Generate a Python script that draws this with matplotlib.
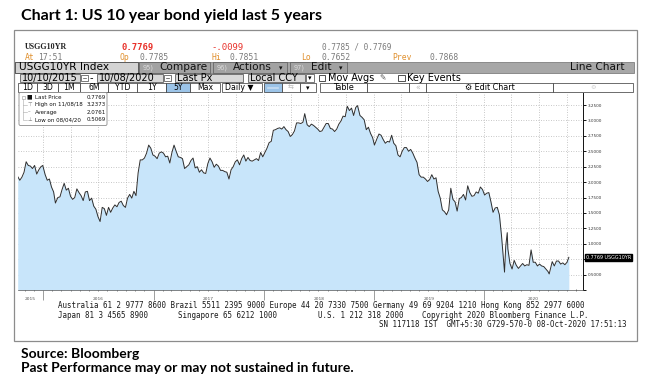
import matplotlib
matplotlib.use("Agg")
import matplotlib.pyplot as plt
import matplotlib.transforms as mtransforms
from matplotlib.patches import Rectangle, FancyBboxPatch
import pandas as pd
import numpy as np

# ---------------- data (US 10Y yield) ----------------
dates_2015 = ["2015-10-09", "2015-10-16", "2015-10-23", "2015-10-30", "2015-11-06", "2015-11-13",
              "2015-11-20", "2015-11-27", "2015-12-04", "2015-12-11", "2015-12-18", "2015-12-25",
              "2015-12-31"]
yld_2015 = [2.09, 2.03, 2.08, 2.16, 2.33, 2.27, 2.26, 2.22, 2.27, 2.13, 2.20, 2.25, 2.27]

dates_2016 = ["2016-01-08", "2016-01-15", "2016-01-22", "2016-01-29", "2016-02-05", "2016-02-11",
              "2016-02-19", "2016-02-26", "2016-03-04", "2016-03-11", "2016-03-18", "2016-03-25",
              "2016-04-01", "2016-04-08", "2016-04-15", "2016-04-22", "2016-04-29", "2016-05-06",
              "2016-05-13", "2016-05-20", "2016-05-27", "2016-06-03", "2016-06-10", "2016-06-17",
              "2016-06-24", "2016-07-01", "2016-07-08", "2016-07-15", "2016-07-22", "2016-07-29",
              "2016-08-05", "2016-08-12", "2016-08-19", "2016-08-26", "2016-09-02", "2016-09-09",
              "2016-09-16", "2016-09-23", "2016-09-30", "2016-10-07", "2016-10-14", "2016-10-21",
              "2016-10-28", "2016-11-04", "2016-11-11", "2016-11-18", "2016-11-25", "2016-12-02",
              "2016-12-09", "2016-12-16", "2016-12-23", "2016-12-30"]
yld_2016 = [2.12, 2.03, 2.05, 1.92, 1.84, 1.66, 1.75, 1.76, 1.88, 1.98, 1.87, 1.90,
            1.77, 1.72, 1.75, 1.89, 1.83, 1.78, 1.70, 1.84, 1.85, 1.70, 1.74, 1.61,
            1.56, 1.44, 1.36, 1.59, 1.57, 1.46, 1.59, 1.51, 1.58, 1.63, 1.60, 1.67,
            1.69, 1.62, 1.59, 1.74, 1.80, 1.74, 1.85, 1.78, 2.15, 2.36, 2.36, 2.39,
            2.47, 2.60, 2.55, 2.44]

dates_2017 = ["2017-01-06", "2017-01-13", "2017-01-20", "2017-01-27", "2017-02-03", "2017-02-10",
              "2017-02-17", "2017-02-24", "2017-03-03", "2017-03-10", "2017-03-17", "2017-03-24",
              "2017-03-31", "2017-04-07", "2017-04-14", "2017-04-21", "2017-04-28", "2017-05-05",
              "2017-05-12", "2017-05-19", "2017-05-26", "2017-06-02", "2017-06-09", "2017-06-16",
              "2017-06-23", "2017-06-30", "2017-07-07", "2017-07-14", "2017-07-21", "2017-07-28",
              "2017-08-04", "2017-08-11", "2017-08-18", "2017-08-25", "2017-09-01", "2017-09-08",
              "2017-09-15", "2017-09-22", "2017-09-29", "2017-10-06", "2017-10-13", "2017-10-20",
              "2017-10-27", "2017-11-03", "2017-11-10", "2017-11-17", "2017-11-24", "2017-12-01",
              "2017-12-08", "2017-12-15", "2017-12-22", "2017-12-29"]
yld_2017 = [2.42, 2.38, 2.47, 2.49, 2.47, 2.41, 2.42, 2.31, 2.48, 2.60, 2.50, 2.41,
            2.40, 2.38, 2.22, 2.25, 2.28, 2.35, 2.39, 2.23, 2.25, 2.16, 2.20, 2.15,
            2.14, 2.30, 2.39, 2.33, 2.24, 2.29, 2.26, 2.19, 2.19, 2.17, 2.16, 2.05,
            2.20, 2.25, 2.33, 2.36, 2.28, 2.38, 2.44, 2.34, 2.40, 2.35, 2.34, 2.36,
            2.38, 2.35, 2.48, 2.41]

dates_2018 = ["2018-01-05", "2018-01-12", "2018-01-19", "2018-01-26", "2018-02-02", "2018-02-09",
              "2018-02-16", "2018-02-23", "2018-03-02", "2018-03-09", "2018-03-16", "2018-03-23",
              "2018-03-30", "2018-04-06", "2018-04-13", "2018-04-20", "2018-04-27", "2018-05-04",
              "2018-05-11", "2018-05-17", "2018-05-25", "2018-06-01", "2018-06-08", "2018-06-15",
              "2018-06-22", "2018-06-29", "2018-07-06", "2018-07-13", "2018-07-20", "2018-07-27",
              "2018-08-03", "2018-08-10", "2018-08-17", "2018-08-24", "2018-08-31", "2018-09-07",
              "2018-09-14", "2018-09-21", "2018-09-28", "2018-10-05", "2018-10-12", "2018-10-19",
              "2018-10-26", "2018-11-02", "2018-11-08", "2018-11-16", "2018-11-23", "2018-11-30",
              "2018-12-07", "2018-12-14", "2018-12-21", "2018-12-28"]
yld_2018 = [2.48, 2.55, 2.64, 2.66, 2.84, 2.85, 2.87, 2.88, 2.86, 2.90, 2.85, 2.82,
            2.74, 2.77, 2.83, 2.96, 2.96, 2.95, 2.97, 3.11, 2.93, 2.90, 2.94, 2.92,
            2.89, 2.86, 2.82, 2.83, 2.89, 2.95, 2.95, 2.87, 2.86, 2.82, 2.86, 2.94,
            2.99, 3.07, 3.06, 3.23, 3.16, 3.20, 3.08, 3.21, 3.24, 3.08, 3.05, 3.01,
            2.85, 2.89, 2.79, 2.72]

dates_2019 = ["2019-01-03", "2019-01-11", "2019-01-18", "2019-01-25", "2019-02-01", "2019-02-08",
              "2019-02-15", "2019-02-22", "2019-03-01", "2019-03-08", "2019-03-15", "2019-03-22",
              "2019-03-29", "2019-04-05", "2019-04-12", "2019-04-19", "2019-04-26", "2019-05-03",
              "2019-05-10", "2019-05-17", "2019-05-24", "2019-05-31", "2019-06-07", "2019-06-14",
              "2019-06-21", "2019-06-28", "2019-07-05", "2019-07-12", "2019-07-19", "2019-07-26",
              "2019-08-02", "2019-08-09", "2019-08-16", "2019-08-23", "2019-08-30", "2019-09-06",
              "2019-09-13", "2019-09-20", "2019-09-27", "2019-10-04", "2019-10-11", "2019-10-18",
              "2019-10-25", "2019-11-01", "2019-11-08", "2019-11-15", "2019-11-22", "2019-11-29",
              "2019-12-06", "2019-12-13", "2019-12-20", "2019-12-27"]
yld_2019 = [2.60, 2.70, 2.78, 2.76, 2.69, 2.63, 2.66, 2.65, 2.76, 2.63, 2.59, 2.44,
            2.41, 2.50, 2.56, 2.56, 2.50, 2.53, 2.47, 2.39, 2.32, 2.12, 2.08, 2.08,
            2.05, 2.01, 2.04, 2.12, 2.05, 2.07, 1.85, 1.74, 1.55, 1.52, 1.47, 1.55,
            1.90, 1.72, 1.68, 1.53, 1.73, 1.75, 1.80, 1.71, 1.94, 1.83, 1.77, 1.78,
            1.84, 1.82, 1.92, 1.88]

dates_2020 = ["2020-01-03", "2020-01-10", "2020-01-17", "2020-01-24", "2020-01-31", "2020-02-07",
              "2020-02-14", "2020-02-21", "2020-02-28", "2020-03-06", "2020-03-09", "2020-03-13",
              "2020-03-18", "2020-03-20", "2020-03-27", "2020-04-03", "2020-04-10", "2020-04-17",
              "2020-04-24", "2020-05-01", "2020-05-08", "2020-05-15", "2020-05-22", "2020-05-29",
              "2020-06-05", "2020-06-12", "2020-06-19", "2020-06-26", "2020-07-03", "2020-07-10",
              "2020-07-17", "2020-07-24", "2020-07-31", "2020-08-04", "2020-08-07", "2020-08-14",
              "2020-08-21", "2020-08-28", "2020-09-04", "2020-09-11", "2020-09-18", "2020-09-25",
              "2020-10-02", "2020-10-08"]
yld_2020 = [1.79, 1.82, 1.83, 1.68, 1.51, 1.58, 1.59, 1.47, 1.13, 0.71, 0.54, 0.96,
            1.18, 0.92, 0.68, 0.59, 0.73, 0.65, 0.60, 0.64, 0.68, 0.64, 0.66, 0.65,
            0.90, 0.70, 0.70, 0.64, 0.67, 0.64, 0.63, 0.59, 0.55, 0.51, 0.57, 0.71,
            0.64, 0.72, 0.72, 0.67, 0.69, 0.66, 0.70, 0.78]

y_ticks = [0.25, 0.50, 0.75, 1.00, 1.25, 1.50, 1.75, 2.00, 2.25, 2.50, 2.75, 3.00, 3.25]
year_labels = ["2015", "2016", "2017", "2018", "2019", "2020"]

legend_rows = [("Last Price", "0.7769"), ("High on 11/08/18", "3.2373"),
               ("Average", "2.0761"), ("Low on 08/04/20", "0.5069")]

dates = pd.to_datetime(dates_2015 + dates_2016 + dates_2017 + dates_2018 + dates_2019 + dates_2020)
yields = np.array(yld_2015 + yld_2016 + yld_2017 + yld_2018 + yld_2019 + yld_2020)

# ---------------- figure ----------------
W, H = 650, 376
fig = plt.figure(figsize=(6.5, 3.76), dpi=100)
fig.patch.set_facecolor("white")

ov = fig.add_axes([0, 0, 1, 1], zorder=0)
ov.set_xlim(0, W); ov.set_ylim(H, 0); ov.axis("off")

SANS = "DejaVu Sans"
MONO = "DejaVu Sans Mono"


def rect(x0, y0, x1, y1, fc="none", ec="none", lw=0.5, z=1, a=ov):
    a.add_patch(Rectangle((x0, y0), x1 - x0, y1 - y0, facecolor=fc, edgecolor=ec, linewidth=lw, zorder=z))


def txt(x, y, s, size=6, color="black", ha="left", va="center", family=SANS, weight="normal", z=5, a=ov):
    a.text(x, y, s, fontsize=size, color=color, ha=ha, va=va, family=family, fontweight=weight, zorder=z)


# Title
txt(21, 16, "Chart 1: US 10 year bond yield last 5 years", size=11.5, family="Lato", weight="bold")

# Outer Bloomberg frame
rect(14, 30, 637, 341, fc="white", ec="#8c8c8c", lw=0.9, z=0.5)

# Header rows
ORANGE = "#e0902e"
GREY = "#7a7a7a"
RED = "#e8322b"
txt(25, 47, "USGG10YR", size=5.8, family="Liberation Serif", weight="bold", color="#222222")
txt(122, 47, "0.7769", size=6.4, family=MONO, weight="bold", color=RED)
txt(211, 47, "-.0099", size=6.4, family=MONO, color=RED)
txt(322, 47, "0.7785 / 0.7769", size=5.6, family=MONO, color=GREY)
txt(25, 57, "At", size=5.8, family=MONO, color=ORANGE)
txt(38, 57, "17:51", size=5.8, family=MONO, color=GREY)
txt(120, 57, "Op", size=5.8, family=MONO, color=ORANGE)
txt(139, 57, "0.7785", size=5.8, family=MONO, color=GREY)
txt(211, 57, "Hi", size=5.8, family=MONO, color=ORANGE)
txt(229, 57, "0.7851", size=5.8, family=MONO, color=GREY)
txt(301, 57, "Lo", size=5.8, family=MONO, color=ORANGE)
txt(322, 57, "0.7652", size=5.8, family=MONO, color=GREY)
txt(392, 57, "Prev", size=5.8, family=MONO, color=ORANGE)
txt(429, 57, "0.7868", size=5.8, family=MONO, color=GREY)

# Row 3 : grey toolbar
rect(15, 62, 634, 72.5, fc="#a7a7a7", ec="#6e6e6e", lw=0.5)
rect(15, 62, 138, 72.5, fc="#d3d3d3", ec="#4d4d4d", lw=0.6)
txt(19, 67.3, "USGG10YR Index", size=7.6)
for (x0, x1, num, lab, arrow) in [(139, 210, "95)", "Compare", False),
                                   (213, 287, "96)", "Actions", True),
                                   (290, 347, "97)", "Edit", True)]:
    rect(x0, 62, x1, 72.5, fc="#a2a2a2", ec="#5a5a5a", lw=0.5)
    txt(x0 + 4, 67.3, num, size=4.8, color="#dcdcdc")
    txt(x0 + (20 if lab != "Edit" else 21), 67.3, lab, size=7.6, color="#111111")
    if arrow:
        txt(x1 - 6, 67.8, "▾", size=5, color="#111111", ha="center")
txt(625, 67.3, "Line Chart", size=7.6, ha="right", color="#111111")

# Row 4 : date range / options
def field(x0, x1, label, fc="#d9d9d9", size=7):
    rect(x0, 73.5, x1, 82, fc=fc, ec="#444444", lw=0.5)
    txt(x0 + 2, 77.9, label, size=size)


def cal(x0):
    rect(x0, 74.5, x0 + 6.5, 81, fc="white", ec="#444444", lw=0.5)
    ov.plot([x0 + 1.5, x0 + 5], [77.8, 77.8], color="#444444", lw=0.5)


field(20, 80, "10/10/2015")
cal(81)
txt(90, 77.9, "-", size=7)
field(97, 163, "10/08/2020")
cal(164)
field(175, 243, "Last Px")
field(248, 305, "Local CCY")
rect(306, 73.5, 314, 82, fc="white", ec="#444444", lw=0.5)
txt(310, 78.2, "▾", size=5, ha="center")
rect(318.5, 74.5, 325, 81, fc="white", ec="#333333", lw=0.6)
txt(328, 77.9, "Mov Avgs", size=7)
txt(379, 77.9, "✎", size=5.5, color="#555555")
rect(398, 74.5, 404.5, 81, fc="white", ec="#333333", lw=0.6)
txt(407, 77.9, "Key Events", size=7)

# Row 5 : buttons
edges = [18, 37, 58, 80, 108, 137, 166, 190, 220]
labels5 = ["1D", "3D", "1M", "6M", "YTD", "1Y", "5Y", "Max"]
for i, lab in enumerate(labels5):
    fc = "#9cc4e8" if lab == "5Y" else "white"
    rect(edges[i], 83, edges[i + 1], 92, fc=fc, ec="#333333", lw=0.5)
    txt((edges[i] + edges[i + 1]) / 2, 87.7, lab, size=5.6, ha="center")
rect(222, 83, 262, 92, fc="white", ec="#333333", lw=0.5)
txt(225, 87.7, "Daily ▼", size=5.6)
rect(264, 83, 282, 92, fc="#9cc4e8", ec="#333333", lw=0.5)
ov.plot([268, 278], [87.5, 87.5], color="#c9def2", lw=1.2)
rect(282, 83, 300, 92, fc="white", ec="#333333", lw=0.5)
txt(291, 87.7, "⇆", size=5, ha="center", color="#bbbbbb")
rect(300, 83, 316, 92, fc="white", ec="#333333", lw=0.5)
txt(308, 88.2, "▾", size=5, ha="center")
rect(320, 83, 367, 92, fc="white", ec="#333333", lw=0.5)
txt(343.5, 87.7, "Table", size=5.8, ha="center")
rect(367, 83, 409, 92, fc="white", ec="#333333", lw=0.5)
rect(409, 83, 426, 92, fc="white", ec="#333333", lw=0.5)
txt(417.5, 87.7, "«", size=5.5, ha="center", color="#bbbbbb")
rect(426, 83, 553, 92, fc="white", ec="#333333", lw=0.5)
txt(489.5, 87.7, "⚙ Edit Chart", size=5.8, ha="center")
rect(553, 83, 633, 92, fc="white", ec="#333333", lw=0.5)
txt(593, 87.7, "⚙", size=4.5, ha="center", color="#cccccc")

# ---------------- chart axes ----------------
left, right, top, bottom = 18, 583, 93, 290
ax = fig.add_axes([left / W, (H - bottom) / H, (right - left) / W, (bottom - top) / H], zorder=2)
ax.set_facecolor("white")
x_start, x_end = pd.Timestamp("2015-10-10"), pd.Timestamp("2020-11-24")
ax.set_xlim(x_start, x_end)
ax.set_ylim(0.25, 3.445)

# grid
ax.set_yticks(y_ticks)
ax.set_yticklabels(["" if v in (0.25, 0.75) else f"{v:.4f}" for v in y_ticks])
ax.yaxis.grid(True, color="#b5b5b5", linestyle=(0, (1, 2)), linewidth=0.6)
for q in pd.date_range("2016-01-01", "2020-10-01", freq="QS"):
    ax.axvline(q, color="#b5b5b5", linestyle=(0, (1, 2)), linewidth=0.6, zorder=0.5)
ax.set_axisbelow(True)

ax.fill_between(dates, yields, 0.25, color="#c8e5fa", linewidth=0, zorder=1)
ax.plot(dates, yields, color="#2e2e2e", linewidth=0.7, zorder=2)

# axes styling
for s in ("left", "top"):
    ax.spines[s].set_visible(False)
ax.spines["right"].set_color("#111111"); ax.spines["right"].set_linewidth(0.7)
ax.spines["bottom"].set_color("#555555"); ax.spines["bottom"].set_linewidth(0.5)
ax.yaxis.tick_right()
ax.tick_params(axis="y", which="major", length=2.2, width=0.7, color="#111111",
               labelsize=3.0, labelcolor="#333333", pad=1)
years = pd.date_range("2016-01-01", "2020-01-01", freq="YS")
ax.set_xticks(years)
ax.set_xticklabels([])
ax.tick_params(axis="x", which="major", length=7, width=0.5, color="#777777", direction="out")
ax.set_xticks(pd.date_range("2015-11-01", "2020-11-01", freq="MS"), minor=True)
ax.tick_params(axis="x", which="minor", length=1.5, width=0.5, color="#555555", direction="inout")

# year labels
bounds = [x_start] + list(years) + [x_end]
trans = mtransforms.blended_transform_factory(ax.transData, ax.transAxes)
for i, lab in enumerate(year_labels):
    mid = bounds[i] + (bounds[i + 1] - bounds[i]) / 2
    ax.text(mid, -0.035, lab, transform=trans, fontsize=3.2, color="#555555",
            ha="center", va="top", clip_on=False)

# last-price tag
ytrans = mtransforms.blended_transform_factory(ax.transAxes, ax.transData)
ax.text(1.005, yields[-1], "0.7769 USGG10YR", transform=ytrans, fontsize=3.5, color="white",
        ha="left", va="center", clip_on=False, zorder=10,
        bbox=dict(boxstyle="square,pad=0.25", facecolor="black", edgecolor="black"))

# legend box (top overlay)
ov2 = fig.add_axes([0, 0, 1, 1], zorder=3)
ov2.set_xlim(0, W); ov2.set_ylim(H, 0); ov2.axis("off")
ov2.add_patch(FancyBboxPatch((19, 92.5), 88, 33, boxstyle="round,pad=0,rounding_size=1.5",
                             facecolor="white", edgecolor="#8a8a8a", linewidth=0.6))
row_y = [97.3, 104.8, 112.3, 119.6]
icons = ["■", "⊤", "–", "⊥"]
for (lab, val), yy, ic in zip(legend_rows, row_y, icons):
    txt(29.5, yy, ic, size=3.8 if ic != "■" else 4.2, color="#111111" if ic == "■" else "#777777",
        ha="center", a=ov2)
    txt(35, yy, lab, size=4.0, color="#111111", a=ov2)
    txt(105.5, yy, val, size=4.0, color="#111111", ha="right", a=ov2)
rect(21.5, 95.5, 25, 99, fc="white", ec="#999999", lw=0.4, a=ov2)
ov2.plot([23.3, 23.3, 27], [99, 119.6, 119.6], color="#aaaaaa", lw=0.4)
for yy in row_y[1:3]:
    ov2.plot([23.3, 27], [yy, yy], color="#aaaaaa", lw=0.4)

# Footer contact lines
FOOT = dict(size=5.45, family=MONO, color="#1a1a1a")
txt(58, 306, "Australia 61 2 9777 8600 Brazil 5511 2395 9000 Europe 44 20 7330 7500 "
             "Germany 49 69 9204 1210 Hong Kong 852 2977 6000", **FOOT)
txt(58, 315.5, "Japan 81 3 4565 8900", **FOOT)
txt(178, 315.5, "Singapore 65 6212 1000", **FOOT)
txt(318, 315.5, "U.S. 1 212 318 2000", **FOOT)
txt(422, 315.5, "Copyright 2020 Bloomberg Finance L.P.", **FOOT)
txt(379, 324.5, "SN 117118 IST  GMT+5:30 G729-570-0 08-Oct-2020 17:51:13", **FOOT)

# Source text
txt(21, 354, "Source: Bloomberg", size=10, family="Lato", weight="bold")
txt(21, 368.5, "Past Performance may or may not sustained in future.", size=10, family="Lato", weight="bold")

fig.savefig("out.png", dpi=100, facecolor="white")
